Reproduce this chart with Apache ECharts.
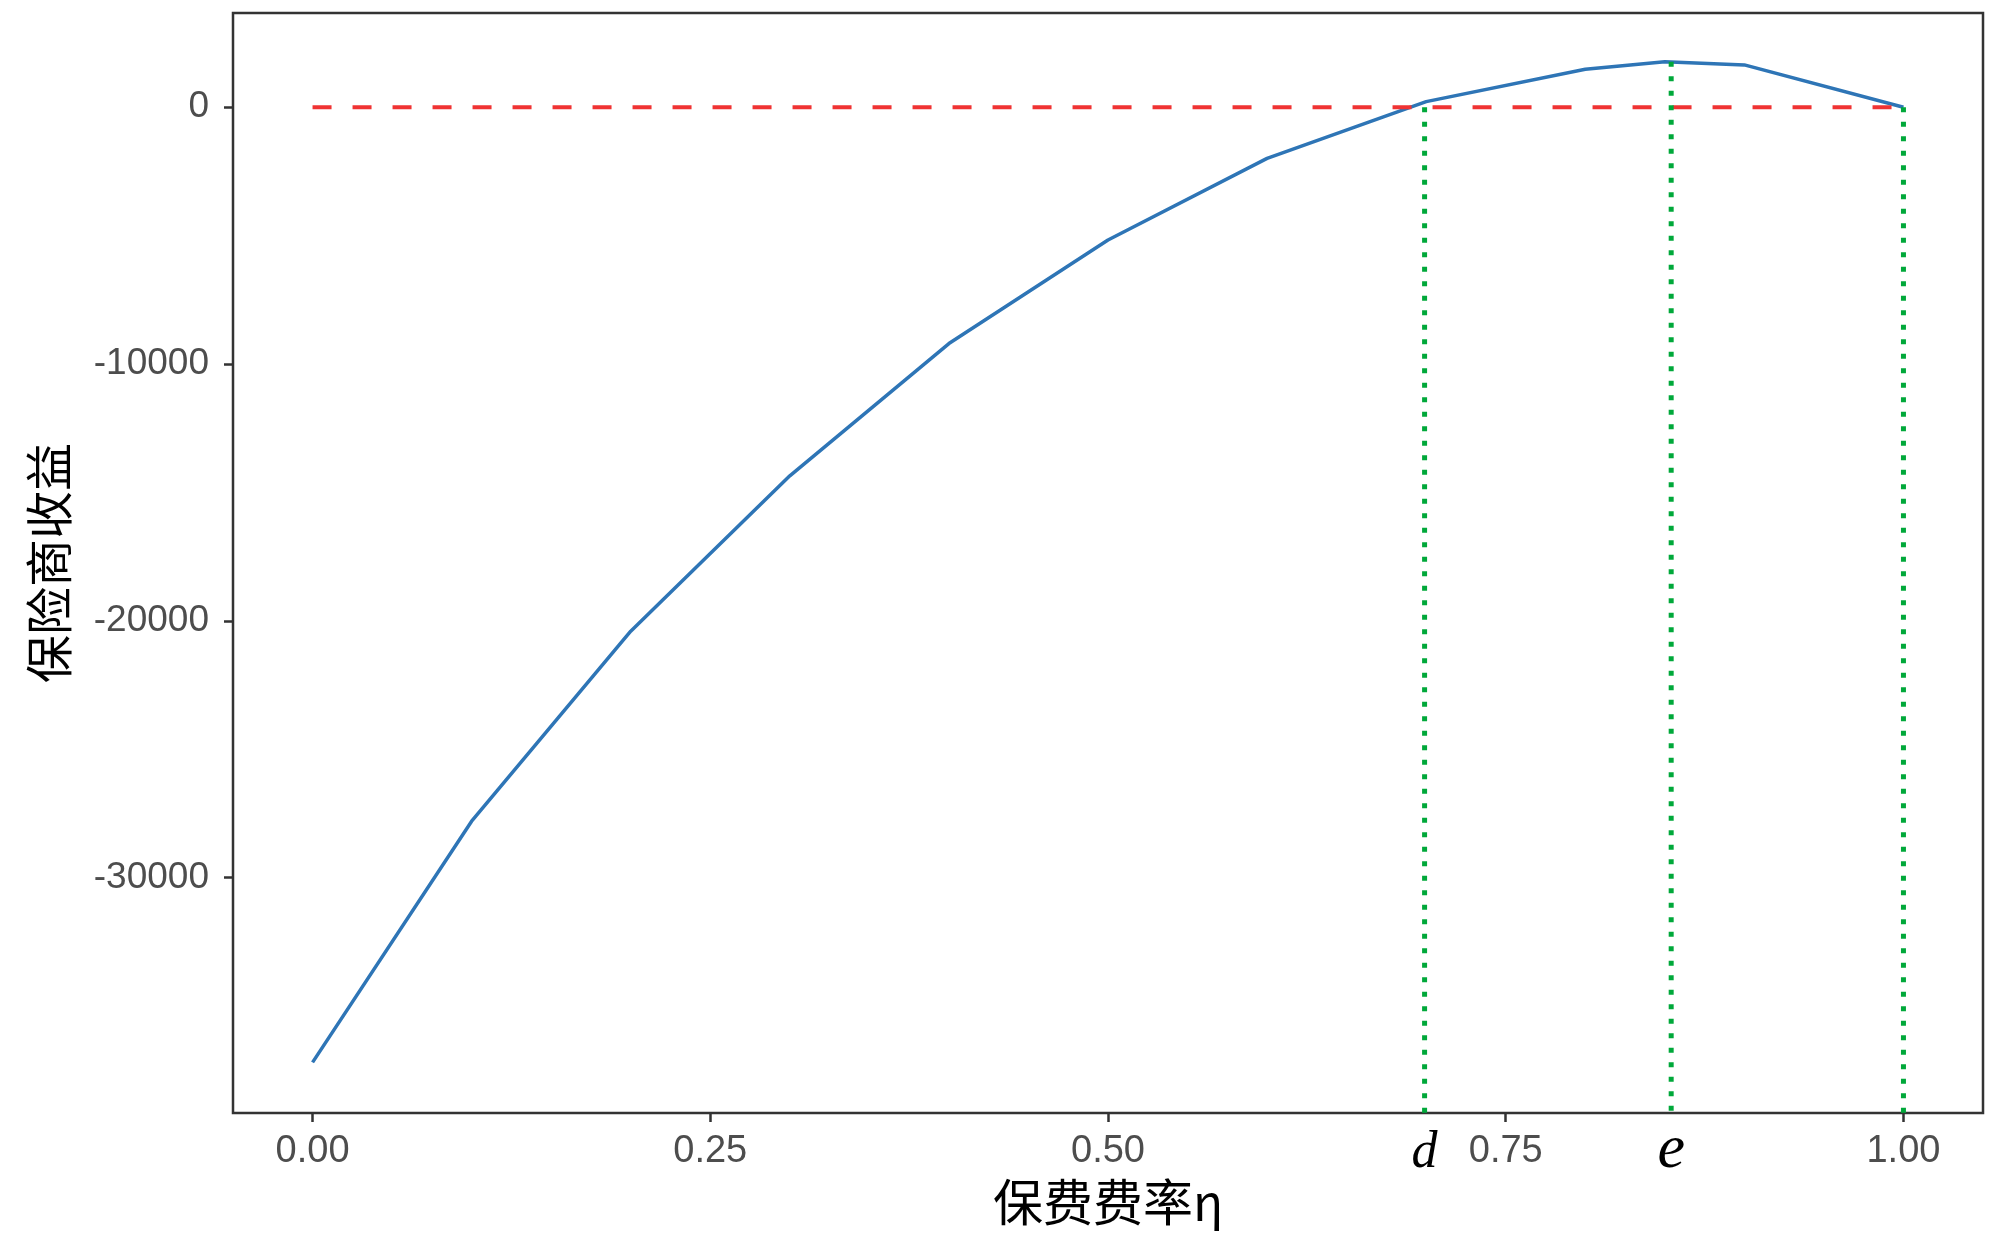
<!DOCTYPE html>
<html>
<head>
<meta charset="utf-8">
<script src="https://cdn.jsdelivr.net/npm/echarts@6/dist/echarts.min.js"></script>
<style>
  html, body { margin: 0; padding: 0; background: #fff; }
  #chart { width: 2000px; height: 1238px; }
</style>
</head>
<body>
<div id="chart"></div>
<script>
// 保费费率 η 与保险商收益
const etaValues = [0, 0.1, 0.2, 0.3, 0.4, 0.5, 0.6, 0.7, 0.8, 0.85, 0.9, 1.0];
const profitValues = [-37190, -27800, -20400, -14350, -9200, -5170, -1990, 220, 1480, 1775, 1650, 0];

// 刻度
const xTickValues = [0, 0.25, 0.5, 0.75, 1];
const yTickValues = [-30000, -20000, -10000, 0];

// 参考线 d, e, 1
const refX = [0.699, 0.854, 1.0];
const refTop = [0, 1775, 0];
const refLabels = ['d', 'e', ''];

const xMin = -0.05, xMax = 1.05;
const yMin = -39160, yMax = 3670;

const chart = echarts.init(document.getElementById('chart'));

const greenSeries = refX.map((x, i) => ({
  type: 'line',
  data: [[x, refTop[i]], [x, yMin]],
  symbol: 'none',
  silent: true,
  z: 4,
  lineStyle: { color: '#00a83a', width: 5, type: [5, 9.5] }
}));

const option = {
  backgroundColor: '#fff',
  animation: false,
  grid: {
    left: 233, top: 13, width: 1750, height: 1100,
    outerBoundsMode: 'none',
    containLabel: false,
    show: true, borderColor: '#333', borderWidth: 2.5, backgroundColor: 'transparent'
  },
  xAxis: [
    {
      type: 'value',
      min: xMin, max: xMax,
      name: '保费费率η',
      nameLocation: 'middle',
      nameGap: 64,
      nameMoveOverlap: false,
      nameTextStyle: { fontFamily: 'Noto Sans CJK SC', fontSize: 50, color: '#000' },
      axisLine: { show: false, onZero: false },
      splitLine: { show: false },
      axisTick: { show: true, length: 9, customValues: xTickValues, lineStyle: { color: '#333', width: 2.5 } },
      axisLabel: {
        customValues: xTickValues,
        margin: 20,
        fontFamily: 'Liberation Sans',
        fontSize: 38,
        color: '#4d4d4d',
        formatter: function (v) { return v.toFixed(2); }
      }
    },
    {
      // d、e 标注
      type: 'value',
      position: 'bottom',
      min: xMin, max: xMax,
      axisLine: { show: false, onZero: false },
      splitLine: { show: false },
      axisTick: { show: false },
      axisLabel: {
        customValues: refX.filter((v, i) => refLabels[i]),
        margin: 66,
        verticalAlign: 'bottom',
        color: '#000',
        formatter: function (v) {
          const i = refX.findIndex(x => Math.abs(x - v) < 1e-9);
          return '{' + refLabels[i] + '|' + refLabels[i] + '}';
        },
        rich: {
          d: { fontFamily: 'Liberation Serif', fontStyle: 'italic', fontSize: 52, color: '#000' },
          e: { fontFamily: 'Liberation Serif', fontStyle: 'italic', fontSize: 62, lineHeight: 56, color: '#000' }
        }
      }
    }
  ],
  yAxis: {
    type: 'value',
    min: yMin, max: yMax,
    name: '保险商收益',
    nameLocation: 'middle',
    nameRotate: 90,
    nameGap: 160,
    nameTextStyle: { fontFamily: 'Noto Sans CJK SC', fontSize: 48, color: '#000' },
    axisLine: { show: false, onZero: false },
    splitLine: { show: false },
    axisTick: { show: true, length: 9, customValues: yTickValues, lineStyle: { color: '#333', width: 2.5 } },
    axisLabel: {
      customValues: yTickValues,
      margin: 24,
      fontFamily: 'Liberation Sans',
      fontSize: 37,
      color: '#4d4d4d',
      formatter: function (v) { return String(v); }
    }
  },
  series: [
    {
      name: '保险商收益',
      type: 'line',
      data: etaValues.map((x, i) => [x, profitValues[i]]),
      symbol: 'none',
      z: 2,
      lineStyle: { color: '#2e75b6', width: 3.5 }
    },
    {
      type: 'line',
      data: [[0, 0], [1, 0]],
      symbol: 'none',
      silent: true,
      z: 3,
      lineStyle: { color: '#f03333', width: 4, type: [19, 21] }
    }
  ].concat(greenSeries)
};

chart.setOption(option);
</script>
</body>
</html>
